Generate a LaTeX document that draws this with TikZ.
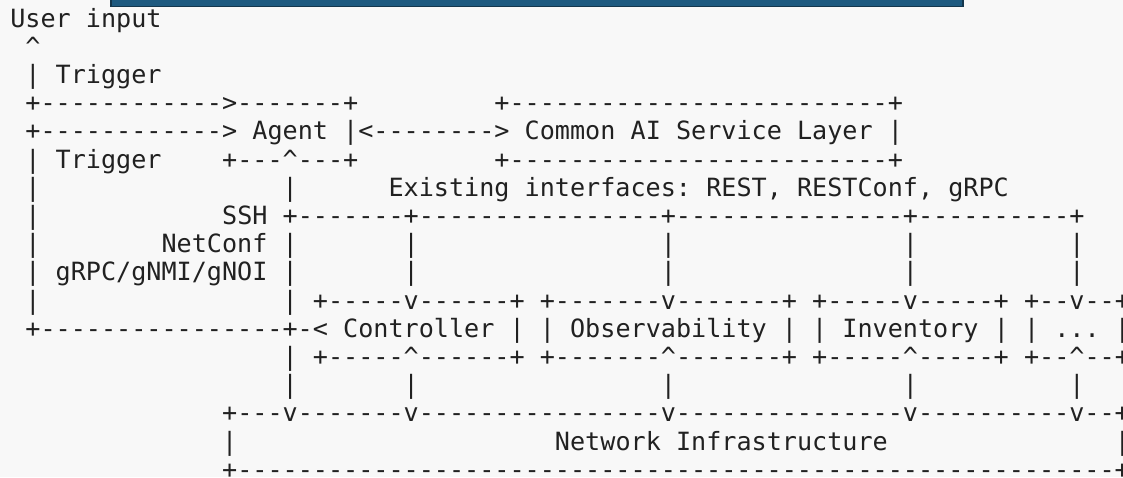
\documentclass[tikz,border=0pt]{standalone}
\usepackage{fontspec}
\setmonofont{DejaVu Sans Mono}
\usepackage{xcolor}

\definecolor{ink}{HTML}{212121}
\definecolor{paper}{HTML}{F8F8F8}
\definecolor{barfill}{HTML}{1E5A80}
\definecolor{barline}{HTML}{14374D}
\newcommand{\uptip}{\textasciicircum}

\tikzset{
  ascii/.style={anchor=base west, inner sep=0pt, outer sep=0pt, text=ink,
    font=\ttfamily\fontsize{25.13pt}{28.2pt}\selectfont},
}

\begin{document}
\begin{tikzpicture}[x=15.13pt, y=-28.2pt]
    % Page and the bar cut by the top edge
    \useasboundingbox (-10.3pt,27pt) rectangle (1112.7pt,-450pt);
    \fill[paper] (-10.3pt,27pt) rectangle (1112.7pt,-450pt);
    \filldraw[fill=barfill, draw=barline, line width=1.5pt] (100.7pt,29pt) rectangle (952.7pt,20.5pt);
    % User input and triggers
    \node[ascii] (user) at (0, 0) {User input};
    \node[ascii] (usertip) at (1, 1) {\uptip};
    \node[ascii] (trigup) at (1, 2) {| Trigger};
    \node[ascii] (agenttop) at (1, 3) {+------------>-------+};
    \node[ascii] (agentin) at (1, 4) {+------------>};
    \node[ascii] (trigdown) at (1, 5) {| Trigger};
    % Agent and Common AI Service Layer
    \node[ascii] (agent) at (16, 4) {Agent};
    \node[ascii] (link) at (22, 4) {|<-------->};
    \node[ascii] (caitop) at (32, 3) {+-------------------------+};
    \node[ascii] (cai) at (34, 4) {Common AI Service Layer};
    \node[ascii] (caiend) at (58, 4) {|};
    \node[ascii] (agentbot) at (14, 5) {+---\uptip---+};
    \node[ascii] (caibot) at (32, 5) {+-------------------------+};
    % Interfaces
    \node[ascii] (left6) at (1, 6) {|};
    \node[ascii] (agentdown) at (18, 6) {|};
    \node[ascii] (apis) at (25, 6) {Existing interfaces: REST, RESTConf, gRPC};
    \node[ascii] (left7) at (1, 7) {|};
    \node[ascii] (ssh) at (14, 7) {SSH};
    \node[ascii] (bus) at (18, 7) {+-------+----------------+---------------+----------+};
    \node[ascii] (left8) at (1, 8) {|};
    \node[ascii] (netconf) at (10, 8) {NetConf |};
    \node[ascii] (grpc) at (1, 9) {| gRPC/gNMI/gNOI |};
    \node[ascii] (p8a) at (26, 8) {|};
    \node[ascii] (p8b) at (43, 8) {|};
    \node[ascii] (p8c) at (59, 8) {|};
    \node[ascii] (p8d) at (70, 8) {|};
    \node[ascii] (p9a) at (26, 9) {|};
    \node[ascii] (p9b) at (43, 9) {|};
    \node[ascii] (p9c) at (59, 9) {|};
    \node[ascii] (p9d) at (70, 9) {|};
    % Service boxes
    \node[ascii] (left10) at (1, 10) {|};
    \node[ascii] (mid10) at (18, 10) {|};
    \node[ascii] (ctrltop) at (20, 10) {+-----v------+};
    \node[ascii] (obstop) at (35, 10) {+-------v-------+};
    \node[ascii] (invtop) at (53, 10) {+-----v-----+};
    \node[ascii] (moretop) at (67, 10) {+--v--+};
    \node[ascii] (loop) at (1, 11) {+----------------+-<};
    \node[ascii] (ctrl) at (22, 11) {Controller};
    \node[ascii] (s1) at (33, 11) {| |};
    \node[ascii] (obs) at (37, 11) {Observability};
    \node[ascii] (s2) at (51, 11) {| |};
    \node[ascii] (inv) at (55, 11) {Inventory};
    \node[ascii] (s3) at (65, 11) {| |};
    \node[ascii] (more) at (69, 11) {...};
    \node[ascii] (s4) at (73, 11) {|};
    \node[ascii] (mid12) at (18, 12) {|};
    \node[ascii] (ctrlbot) at (20, 12) {+-----\uptip------+};
    \node[ascii] (obsbot) at (35, 12) {+-------\uptip-------+};
    \node[ascii] (invbot) at (53, 12) {+-----\uptip-----+};
    \node[ascii] (morebot) at (67, 12) {+--\uptip--+};
    \node[ascii] (p13a) at (18, 13) {|};
    \node[ascii] (p13b) at (26, 13) {|};
    \node[ascii] (p13c) at (43, 13) {|};
    \node[ascii] (p13d) at (59, 13) {|};
    \node[ascii] (p13e) at (70, 13) {|};
    % Network Infrastructure
    \node[ascii] (nettop) at (14, 14) {+---v-------v----------------v---------------v----------v--+};
    \node[ascii] (netl) at (14, 15) {|};
    \node[ascii] (net) at (36, 15) {Network Infrastructure};
    \node[ascii] (netr) at (73, 15) {|};
    \node[ascii] (netbot) at (14, 16) {+----------------------------------------------------------+};
\end{tikzpicture}
\end{document}
